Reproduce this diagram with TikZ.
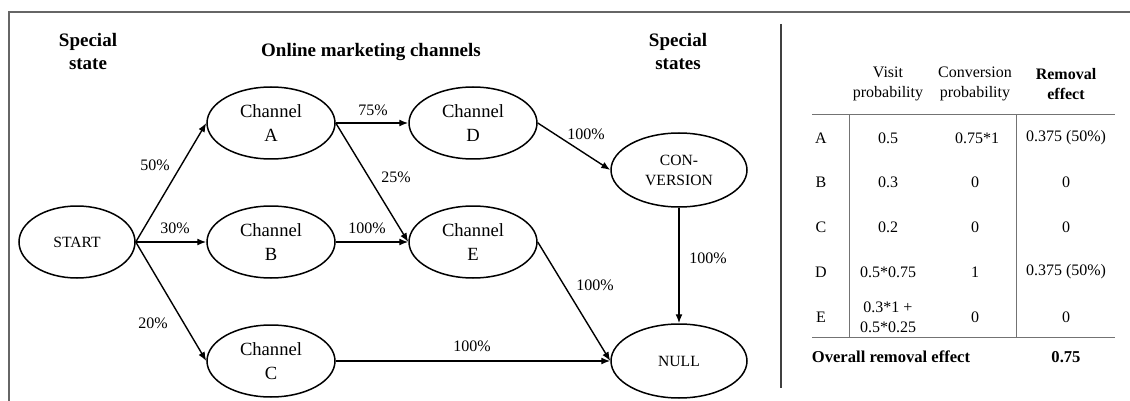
\documentclass[tikz,border=0pt]{standalone}
\usepackage{fontspec}
\setmainfont{Liberation Serif}
\usetikzlibrary{shapes.geometric,arrows.meta}

\begin{document}
\begin{tikzpicture}[x=0.5pt, y=-0.5pt,
  every node/.style={inner sep=0pt, align=center},
  state/.style={ellipse, draw, line width=0.75pt, minimum width=68pt, minimum height=37pt, font=\fontsize{7.8}{10}\selectfont},
  chan/.style={ellipse, draw, line width=0.75pt, minimum width=64pt, minimum height=36pt, font=\fontsize{9.3}{12}\selectfont},
  lbl/.style={font=\fontsize{8}{9.6}\selectfont},
  head/.style={font=\fontsize{9.5}{11.5}\selectfont\bfseries},
  cell/.style={font=\fontsize{8}{10}\selectfont},
  flow/.style={-{Latex[length=4.5pt,width=3.5pt]}, line width=0.7pt},
  rule/.style={draw=black!55, line width=0.5pt}]
  \useasboundingbox (0,0) rectangle (1130,401);
  % frame and divider
  \draw [draw=black!60, line width=1pt] (9,401) -- (9,12) -- (1130,12);
  \draw [draw=black!75, line width=0.7pt] (781,24) -- (781,388);
  % headings
  \node (hstart) [head] at (88,52) {Special\\state};
  \node (hchan) [head] at (371,52) {Online marketing channels};
  \node (hend) [head] at (678,52) {Special\\states};
  % states
  \node (start) [state, minimum width=58pt, minimum height=36pt] at (77,242) {START};
  \node (a) [chan] at (271,123) {Channel\\A};
  \node (b) [chan] at (271,242) {Channel\\B};
  \node (c) [chan] at (271,361) {Channel\\C};
  \node (d) [chan] at (473,123) {Channel\\D};
  \node (e) [chan] at (473,242) {Channel\\E};
  \node (conv) [state] at (679,170) {CON-\\VERSION};
  \node (null) [state] at (679,361) {NULL};
  % transitions
  \draw [flow] (start.east) -- (a.west);
  \draw [flow] (start.east) -- (b.west);
  \draw [flow] (start.east) -- (c.west);
  \draw [flow] (a.east) -- (d.west);
  \draw [flow] (a.east) -- (e.west);
  \draw [flow] (b.east) -- (e.west);
  \draw [flow] (d.east) -- (conv.west);
  \draw [flow] (e.east) -- (null.west);
  \draw [flow] (c.east) -- (null.west);
  \draw [flow] (conv.south) -- (null.north);
  \node (l50) [lbl] at (155,165) {50\%};
  \node (l30) [lbl] at (175,228) {30\%};
  \node (l20) [lbl] at (153,323) {20\%};
  \node (l75) [lbl] at (373,110) {75\%};
  \node (l25) [lbl] at (396,177) {25\%};
  \node (lbe) [lbl] at (367,228) {100\%};
  \node (ldc) [lbl] at (586,134) {100\%};
  \node (len) [lbl] at (595,285) {100\%};
  \node (lcn) [lbl] at (472,346) {100\%};
  \node (lcv) [lbl] at (708,258) {100\%};
  % table
  \draw [rule] (812,115) -- (1115,115);
  \draw [rule] (812,337) -- (1115,337);
  \draw [rule] (849,115) -- (849,337);
  \draw [rule] (1016,115) -- (1016,337);
  \node (tvisit) [cell] at (888,84) {Visit\\probability};
  \node (tconv) [cell] at (975,84) {Conversion\\probability};
  \node (trem) [cell, font=\fontsize{8}{10}\selectfont\bfseries] at (1066,84) {Removal\\effect};
  \node (ra) [cell] at (821,138) {A};
  \node (va) [cell] at (888,138) {0.5};
  \node (ca) [cell] at (977,138) {0.75*1};
  \node (ea) [cell] at (1066,138) {0.375 (50\%)};
  \node (rb) [cell] at (821,182) {B};
  \node (vb) [cell] at (888,182) {0.3};
  \node (cb) [cell] at (975,182) {0};
  \node (eb) [cell] at (1066,182) {0};
  \node (rc) [cell] at (821,227) {C};
  \node (vc) [cell] at (888,227) {0.2};
  \node (cc) [cell] at (975,227) {0};
  \node (ec) [cell] at (1066,227) {0};
  \node (rd) [cell] at (821,272) {D};
  \node (vd) [cell] at (888,272) {0.5*0.75};
  \node (cd) [cell] at (975,272) {1};
  \node (ed) [cell] at (1066,272) {0.375 (50\%)};
  \node (re) [cell] at (821,317) {E};
  \node (ve) [cell] at (888,317) {0.3*1 +\\0.5*0.25};
  \node (ce) [cell] at (975,317) {0};
  \node (ee) [cell] at (1066,317) {0};
  \node (tall) [cell, font=\fontsize{8.3}{10}\selectfont\bfseries] at (891,357) {Overall removal effect};
  \node (tsum) [cell, font=\fontsize{8.3}{10}\selectfont\bfseries] at (1066,357) {0.75};
\end{tikzpicture}
\end{document}
